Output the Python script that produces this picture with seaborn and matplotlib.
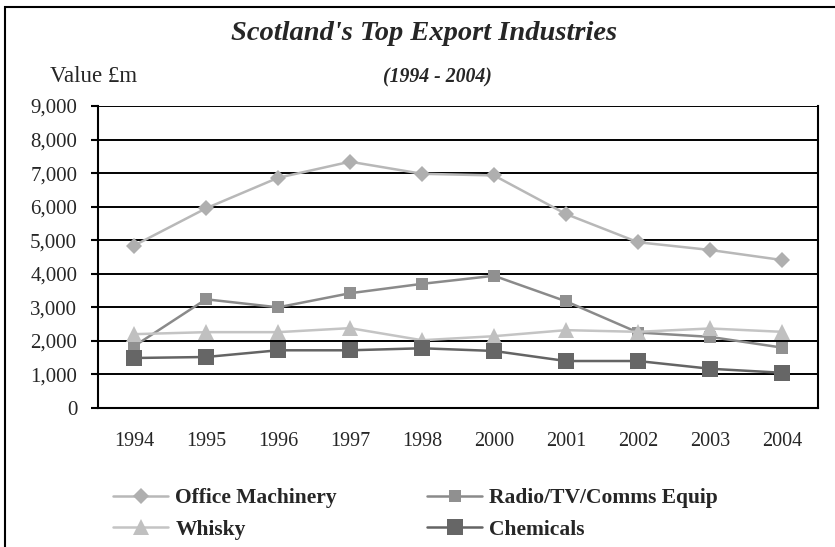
import pandas as pd
import numpy as np
import matplotlib.pyplot as plt
from matplotlib.patches import Rectangle
from matplotlib.ticker import FuncFormatter, MultipleLocator
import seaborn as sns

# values (£m)
years = ["1994", "1995", "1996", "1997", "1998", "2000", "2001", "2002", "2003", "2004"]
office_machinery = [4840, 5950, 6860, 7340, 6980, 6930, 5780, 4940, 4710, 4410]
radio_tv_comms = [1840, 3240, 3000, 3420, 3700, 3940, 3180, 2250, 2120, 1800]
whisky = [2200, 2260, 2260, 2380, 2020, 2140, 2320, 2270, 2370, 2270]
chemicals = [1490, 1520, 1720, 1720, 1780, 1700, 1400, 1400, 1170, 1050]

series = {
    "Office Machinery": office_machinery,
    "Radio/TV/Comms Equip": radio_tv_comms,
    "Whisky": whisky,
    "Chemicals": chemicals,
}
styles = {
    "Office Machinery": dict(color="#b8b8b8", marker="D", markersize=8, mfc="#afafaf"),
    "Radio/TV/Comms Equip": dict(color="#8a8a8a", marker="s", markersize=8.5, mfc="#909090"),
    "Whisky": dict(color="#c4c4c4", marker="^", markersize=11, mfc="#c0c0c0"),
    "Chemicals": dict(color="#646464", marker="s", markersize=12, mfc="#666666"),
}

df = pd.DataFrame(
    [(y, name, v) for name, vals in series.items() for y, v in zip(years, vals)],
    columns=["Year", "Industry", "Value"],
)

sns.set_style("white")
plt.rcParams["font.family"] = ["Liberation Serif", "DejaVu Serif"]

fig = plt.figure(figsize=(8.35, 5.47), dpi=100)
ax = fig.add_axes([98 / 835, 1 - 408 / 547, 720 / 835, 302 / 547])

handles = {}
for name in series:
    st = styles[name]
    sub = df[df["Industry"] == name]
    sns.lineplot(data=sub, x="Year", y="Value", ax=ax, color=st["color"],
                 marker=st["marker"], markersize=st["markersize"],
                 markerfacecolor=st["mfc"], markeredgewidth=0, linewidth=1.8,
                 label=name, legend=False)
    handles[name] = ax.lines[-1]

ax.set_xlim(-0.5, len(years) - 0.5)
ax.set_ylim(0, 9000)
ax.yaxis.set_major_locator(MultipleLocator(1000))
ax.yaxis.set_major_formatter(FuncFormatter(lambda v, p: f"{int(v):,}"))
ax.grid(axis="y", color="black", linewidth=1.4)
ax.grid(axis="x", visible=False)
ax.set_axisbelow(True)
for s in ["left", "bottom", "right"]:
    ax.spines[s].set_color("black")
    ax.spines[s].set_linewidth(1.5)
ax.spines["top"].set_visible(False)

ax.set_xticks(np.arange(len(years)))
ax.set_xticklabels(years)
ax.set_xticks(np.arange(len(years) + 1) - 0.5, minor=True)
ax.tick_params(axis="x", which="major", length=0, pad=17, labelsize=14.5)
ax.tick_params(axis="x", which="minor", direction="in", length=5, width=1.5, color="black")
ax.tick_params(axis="y", which="major", direction="out", left=True, length=5, width=1.5,
               color="black", pad=10, labelsize=15)
ax.set_xlabel("")
ax.set_ylabel("")

fig.text(424 / 835, 1 - 34 / 547, "Scotland's Top Export Industries", ha="center", va="center",
         fontsize=20.5, fontweight="bold", fontstyle="italic")
fig.text(437 / 835, 1 - 77 / 547, "(1994 - 2004)", ha="center", va="center",
         fontsize=14.2, fontweight="bold", fontstyle="italic")
fig.text(50 / 835, 1 - 77 / 547, "Value £m", ha="left", va="center", fontsize=16.5)

order = ["Office Machinery", "Whisky", "Radio/TV/Comms Equip", "Chemicals"]
fig.legend([handles[n] for n in order], order, loc="upper left",
           bbox_to_anchor=(113 / 835, 1 - 488 / 547), ncol=2, frameon=False,
           borderpad=0, borderaxespad=0, handlelength=2.56, handletextpad=0.33,
           columnspacing=4.2, labelspacing=0.55, prop={"weight": "bold", "size": 15.5})

fig.patches.append(Rectangle((5 / 835, -0.05), 1.0, 1.05 - 7 / 547, transform=fig.transFigure,
                             fill=False, edgecolor="black", linewidth=1.5))

fig.savefig("out.png", dpi=100)
